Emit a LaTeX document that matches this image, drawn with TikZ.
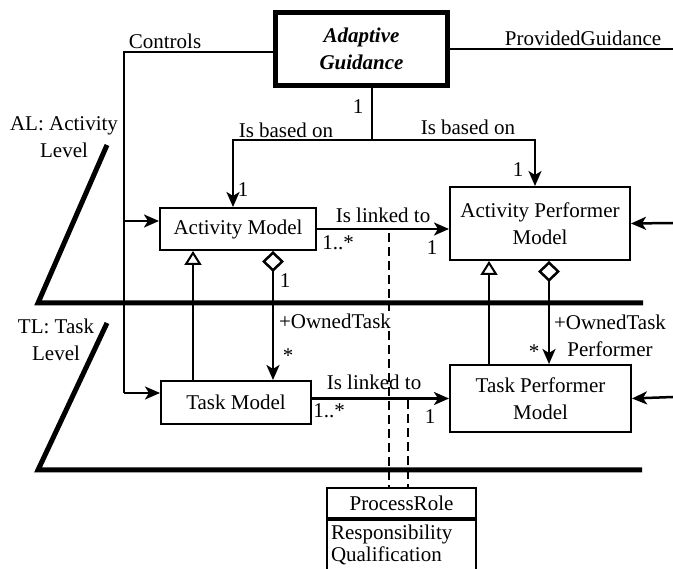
\documentclass[tikz,border=0pt]{standalone}
\usepackage{fontspec}
\setmainfont{Liberation Serif}
\usetikzlibrary{positioning}
\usetikzlibrary{arrows.meta}
\usetikzlibrary{math}

\begin{document}
\begin{tikzpicture}[x=1pt, y=-1pt,
    font=\fontsize{21}{27}\selectfont,
    box/.style={draw, line width=2pt, align=center, inner sep=2pt},
    lbl/.style={inner sep=0pt},
    conn/.style={line width=2pt},
    arr/.style={line width=2.5pt, -{Stealth[length=15pt,width=13pt,inset=4pt]}},
    gen/.style={line width=2pt, -{Triangle[open,length=14pt,width=17pt]}},
    agg/.style={line width=2.5pt, {Diamond[open,length=21pt,width=22pt]}-{Stealth[length=15pt,width=13pt,inset=4pt]}},
    level/.style={line width=5pt, line join=miter},
    trace/.style={line width=2pt, dash pattern=on 9pt off 5pt}]
      \tikzmath{
        \xCtl = 124;
        \yCtl = 52;
        \xBase = 372;
        \yBase = 140;
        \xTrA = 389;
        \xTrB = 408;
        \xR = 673;
      }

      \useasboundingbox (0,0) rectangle (673,569);

      % classes
      \node[box, line width=5pt, font=\fontsize{21}{27}\selectfont\bfseries\itshape,
            minimum width=172pt, minimum height=73pt] (guid) at (361.5,49) {Adaptive\\Guidance};
      \node[box, minimum width=156pt, minimum height=42pt] (actM) at (238,229) {Activity Model};
      \node[box, minimum width=180pt, minimum height=73pt] (actPM) at (540,223.5) {Activity Performer\\Model};
      \node[box, minimum width=150pt, minimum height=43pt] (taskM) at (236,402.5) {Task Model};
      \node[box, minimum width=181pt, minimum height=67pt] (taskPM) at (540.5,398.5) {Task Performer\\Model};
      \node[box, minimum width=149pt, minimum height=30pt, inner sep=0pt] (role) at (401.5,503) {ProcessRole};
      \node[box, below=0pt of role, text width=141pt, align=left, inner xsep=4pt, inner ysep=5pt,
            text depth=40pt, font=\fontsize{21}{22}\selectfont] (roleAttr) {Responsibility\\Qualification};

      \coordinate (ctlTop) at (\xCtl,\yCtl);
      \coordinate (actIn) at (actM.west |- 0,221);
      \coordinate (taskIn) at (taskM.west |- 0,393);
      \coordinate (baseJ) at (\xBase,\yBase);
      \coordinate (pgEnd) at (\xR,49);
      \coordinate (apmR) at (\xR,223);
      \coordinate (tpmR) at (\xR,397);
      \coordinate (trA) at (\xTrA,233);
      \coordinate (trB) at (\xTrB,400);

      % traces to the role
      \draw[trace] (trA) -- (role.north -| trA);
      \draw[trace] (trB) -- (role.north -| trB);

      % guidance links
      \draw[conn] (guid.west |- ctlTop) -- (ctlTop) -- (ctlTop |- taskIn);
      \draw[arr] (ctlTop |- actIn) -- (actIn);
      \draw[arr] (ctlTop |- taskIn) -- (taskIn);
      \draw[conn] (guid.east) -- (pgEnd);
      \draw[conn] (guid.south -| baseJ) -- (baseJ);
      \draw[arr] (baseJ) -| ([xshift=-5pt]actM.north);
      \draw[arr] (baseJ) -| ([xshift=-5pt]actPM.north);

      \draw[arr] (actM.east) -- (actM.east -| actPM.west);
      \draw[arr] (taskPM.west -| taskM.east) -- (taskPM.west);
      \draw[arr] (apmR) -- (actPM.east);
      \draw[arr] (tpmR) -- (taskPM.east);

      \draw[gen] (taskM.north -| 193,0) -- (actM.south -| 193,0);
      \draw[gen] (taskPM.north -| 489,0) -- (actPM.south -| 489,0);
      \draw[agg] (actM.south -| 273,0) -- (taskM.north -| 273,0);
      \draw[agg] (actPM.south -| 549,0) -- (taskPM.north -| 549,0);

      % labels
      \node[lbl] (lCtl) at (165,41) {Controls};
      \node[lbl] (lPG) at (583,38) {ProvidedGuidance};
      \node[lbl] (lOne1) at (358,107) {1};
      \node[lbl] (lBaseA) at (286,130) {Is based on};
      \node[lbl] (lBaseB) at (468,127) {Is based on};
      \node[lbl] (lOne2) at (243,190) {1};
      \node[lbl] (lOne3) at (518,170) {1};
      \node[lbl] (lLinkA) at (383,215) {Is linked to};
      \node[lbl] (lMulA) at (338,243) {1..*};
      \node[lbl] (lOne4) at (432,248) {1};
      \node[lbl] (lOne5) at (285,281) {1};
      \node[lbl, fill=white, inner sep=3pt] (lOwnA) at (335,321) {+OwnedTask};
      \node[lbl] (lStarA) at (288,356) {*};
      \node[lbl, align=center] (lOwnB) at (610,336) {+OwnedTask\\Performer};
      \node[lbl] (lStarB) at (534,352) {*};
      \node[lbl] (lLinkB) at (374,382) {Is linked to};
      \node[lbl] (lMulB) at (329,411) {1..*};
      \node[lbl] (lOne6) at (430,417) {1};
      \node[lbl, align=center] (lAL) at (64,137) {AL: Activity\\Level};
      \node[lbl, align=center] (lTL) at (56,340) {TL: Task\\Level};

      % levels
      \draw[level] (107,145) -- (38,303) -- (643,303);
      \draw[level] (107,323) -- (38,470) -- (642,470);

    \end{tikzpicture}
\end{document}
